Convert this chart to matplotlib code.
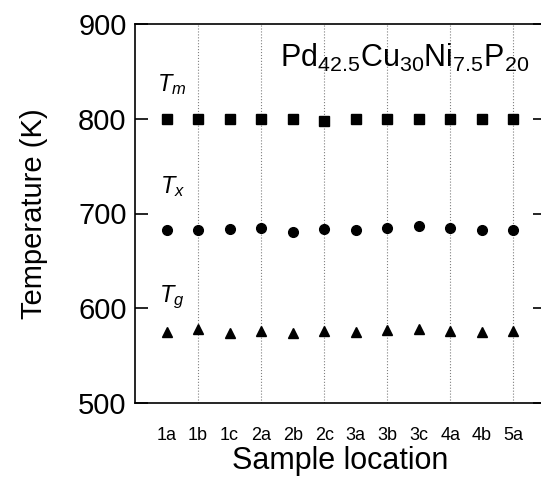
import matplotlib.pyplot as plt

plt.rcParams['font.family'] = ['Liberation Sans', 'DejaVu Sans']
plt.rcParams['mathtext.fontset'] = 'custom'
plt.rcParams['mathtext.rm'] = 'Liberation Sans'
plt.rcParams['mathtext.it'] = 'Liberation Sans:italic'

locations = ['1a', '1b', '1c', '2a', '2b', '2c', '3a', '3b', '3c', '4a', '4b', '5a']
Tm = [800, 800, 800, 800, 800, 798, 800, 800, 800, 800, 800, 800]
Tx = [683, 683, 684, 685, 681, 684, 683, 685, 687, 685, 683, 683]
Tg = [575, 578, 574, 576, 574, 576, 575, 577, 578, 576, 575, 576]
grid_at = ['1b', '2a', '2c', '3b', '4a', '5a']

fig = plt.figure(figsize=(5.41, 4.82), dpi=100)
ax = fig.add_axes([135 / 541, 79 / 482, 410 / 541, 379 / 482])

x = list(range(len(locations)))
for loc in grid_at:
    ax.axvline(locations.index(loc), color='gray', ls=':', lw=0.8, zorder=0)

ax.plot(x, Tm, 's', color='black', ms=7)
ax.plot(x, Tx, 'o', color='black', ms=7)
ax.plot(x, Tg, '^', color='black', ms=7)

ax.text(0.15, 836, r'$T_m$', fontsize=17, ha='center', va='center')
ax.text(0.2, 728, r'$T_x$', fontsize=17, ha='center', va='center')
ax.text(0.15, 612, r'$T_g$', fontsize=17, ha='center', va='center')
ax.text(3.6, 855, r'Pd$_{42.5}$Cu$_{30}$Ni$_{7.5}$P$_{20}$', fontsize=22)

ax.set_xlim(-1, 12)
ax.set_ylim(500, 900)
ax.set_yticks([500, 600, 700, 800, 900])
ax.set_xticks(x)
ax.set_xticklabels(locations, fontsize=13)
ax.tick_params(axis='x', length=0, pad=17)
ax.tick_params(axis='y', direction='in', length=9, width=1.2, labelsize=21,
               right=True, pad=6)
for s in ax.spines.values():
    s.set_linewidth(1.2)

ax.set_ylabel('Temperature (K)', fontsize=21, labelpad=22)
ax.set_xlabel('Sample location', fontsize=22, labelpad=2)

fig.savefig('out.png', dpi=100)
